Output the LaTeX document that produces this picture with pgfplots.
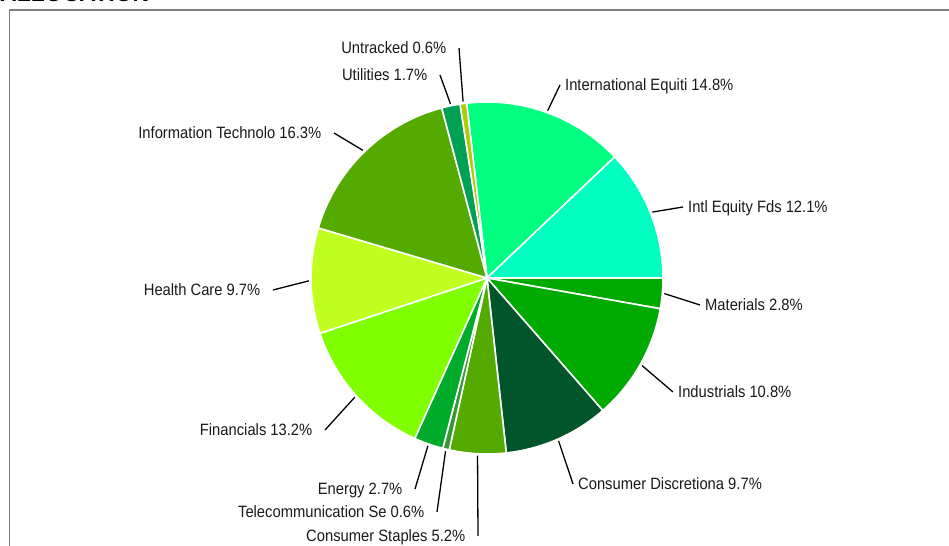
\documentclass[border=0pt]{standalone}
\usepackage{pgfplots}
\usepackage{pgfplotstable}
\pgfplotsset{compat=1.18}
\usepackage{fontspec}
\setmainfont{Liberation Sans}
\newfontfamily\labelfont[FakeStretch=0.9]{Liberation Sans}

\definecolor{cIE}{HTML}{00FF80}
\definecolor{cIF}{HTML}{00FFC0}
\definecolor{cMa}{HTML}{00AA00}
\definecolor{cIn}{HTML}{00AA00}
\definecolor{cCD}{HTML}{00552B}
\definecolor{cCS}{HTML}{55AA00}
\definecolor{cTe}{HTML}{339933}
\definecolor{cEn}{HTML}{00AA2B}
\definecolor{cFi}{HTML}{80FF00}
\definecolor{cHC}{HTML}{C0FF20}
\definecolor{cIT}{HTML}{55AA00}
\definecolor{cUt}{HTML}{00A055}
\definecolor{cUn}{HTML}{AACC00}
\definecolor{framegray}{HTML}{808080}

% name, value (%), colour, outer end of the leader line (layout, picture px)
\pgfplotstableread[col sep=comma]{
name,value,col,lx,ly
International Equiti,14.8,cIE,560,85
Intl Equity Fds,12.1,cIF,683,207
Materials,2.8,cMa,700,305
Industrials,10.8,cIn,673,392
Consumer Discretiona,9.7,cCD,573,484
Consumer Staples,5.2,cCS,478,536
Telecommunication Se,0.6,cTe,437,512
Energy,2.7,cEn,415,489
Financials,13.2,cFi,325,430
Health Care,9.7,cHC,273,290
Information Technolo,16.3,cIT,334,133
Utilities,1.7,cUt,440,75
Untracked,0.6,cUn,459,48
}\piedata

\def\piestart{96.65}
\def\pierad{176}

% total
\xdef\pietotal{0}
\foreach \r in {0,...,12}{%
  \pgfplotstablegetelem{\r}{value}\of\piedata
  \pgfmathsetmacro\tmp{\pietotal+\pgfplotsretval}%
  \xdef\pietotal{\tmp}%
}
% angles and labels
\xdef\piecum{0}
\foreach \r in {0,...,12}{%
  \pgfplotstablegetelem{\r}{value}\of\piedata
  \edef\v{\pgfplotsretval}%
  \pgfplotstablegetelem{\r}{name}\of\piedata
  \edef\nm{\pgfplotsretval}%
  \pgfplotstablegetelem{\r}{col}\of\piedata
  \edef\cl{\pgfplotsretval}%
  \pgfplotstablegetelem{\r}{lx}\of\piedata
  \edef\lx{\pgfplotsretval}%
  \pgfplotstablegetelem{\r}{ly}\of\piedata
  \edef\ly{\pgfplotsretval}%
  \pgfmathsetmacro\a{\piestart-\piecum/\pietotal*360}%
  \pgfmathsetmacro\b{\piestart-(\piecum+\v)/\pietotal*360}%
  \pgfmathsetmacro\m{(\a+\b)/2}%
  \pgfmathsetmacro\c{cos(\m)}%
  \pgfmathsetmacro\sx{\pierad*cos(\a)}%
  \pgfmathsetmacro\sy{\pierad*sin(\a)}%
  \pgfmathsetmacro\ix{178*cos(\m)}%
  \pgfmathsetmacro\iy{178*sin(\m)}%
  \pgfmathsetmacro\ox{\lx-487}%
  \pgfmathsetmacro\oy{278-\ly}%
  \expandafter\xdef\csname pa\r\endcsname{\a}%
  \expandafter\xdef\csname pb\r\endcsname{\b}%
  \expandafter\xdef\csname psx\r\endcsname{\sx}%
  \expandafter\xdef\csname psy\r\endcsname{\sy}%
  \expandafter\xdef\csname pix\r\endcsname{\ix}%
  \expandafter\xdef\csname piy\r\endcsname{\iy}%
  \expandafter\xdef\csname pox\r\endcsname{\ox}%
  \expandafter\xdef\csname poy\r\endcsname{\oy}%
  \expandafter\xdef\csname pc\r\endcsname{\cl}%
  \expandafter\xdef\csname pl\r\endcsname{\nm\space\v\noexpand\%}%
  \ifdim\c pt>0pt
    \expandafter\xdef\csname pan\r\endcsname{base west}%
    \expandafter\xdef\csname psh\r\endcsname{4.5bp}%
  \else
    \expandafter\xdef\csname pan\r\endcsname{base east}%
    \expandafter\xdef\csname psh\r\endcsname{-12bp}%
  \fi
  \pgfmathsetmacro\tmp{\piecum+\v}%
  \xdef\piecum{\tmp}%
}

\begin{document}
\begin{tikzpicture}
\begin{axis}[
  x=1bp, y=1bp,
  xmin=-487, xmax=462, ymin=-268, ymax=278,
  hide axis, clip=false,
]
\coordinate (bl) at (axis cs:-487,-268);
\coordinate (tr) at (axis cs:462,278);
% frame and title
\draw[framegray, line width=1.5bp] (axis cs:-477.5,-268) -- (axis cs:-477.5,268) -- (axis cs:462,268);
\node[anchor=base west, inner sep=0pt, font=\fontsize{23bp}{25bp}\selectfont\bfseries]
  at (axis cs:-487,276.3) {ALLOCATION};
% slices
\pgfplotsinvokeforeach{0,...,12}{
  \filldraw[fill=\csname pc#1\endcsname, draw=white, line width=1.6bp, line join=round]
    (axis cs:0,0) -- (axis cs:\csname psx#1\endcsname,\csname psy#1\endcsname)
    arc[start angle=\csname pa#1\endcsname, end angle=\csname pb#1\endcsname, radius=\pierad bp] -- cycle;
}
% leader lines and labels
\pgfplotsinvokeforeach{0,...,12}{
  \draw[black, line width=1.3bp]
    (axis cs:\csname pix#1\endcsname,\csname piy#1\endcsname) --
    (axis cs:\csname pox#1\endcsname,\csname poy#1\endcsname)
    node[anchor=\csname pan#1\endcsname, xshift=\csname psh#1\endcsname, yshift=-5.8bp, inner sep=0pt,
         text=black!90, font=\labelfont\fontsize{16.4bp}{18bp}\selectfont] {\csname pl#1\endcsname};
}
\end{axis}
\pgfresetboundingbox
\useasboundingbox (bl) rectangle (tr);
\end{tikzpicture}
\end{document}
